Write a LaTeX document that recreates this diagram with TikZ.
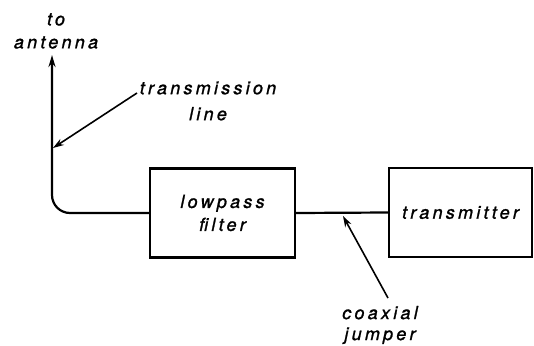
\documentclass[tikz,border=0pt]{standalone}
\usepackage{fontspec}
\setmainfont{TeX Gyre Heros}[LetterSpace=18, FakeBold=1.2]
\usepackage{tikz}
\usetikzlibrary{arrows.meta}
\usetikzlibrary{positioning}

\tikzset{
	blockbox/.style = {draw, line width=2.2pt, minimum width=145pt, minimum height=89pt, inner sep=0pt, align=center},
	lbl/.style = {align=center, inner sep=0pt, font=\fontsize{18}{23}\selectfont\itshape},
	feed/.style = {line width=2.2pt},
	pointer/.style = {line width=1.6pt, -{Stealth[length=11pt,width=7pt]}}
}

\begin{document}
\begin{tikzpicture}[x=1pt,y=-1pt]
		\useasboundingbox (0,0) rectangle (534,345);
		% blocks
		\node[blockbox, lbl] (filter) at (222.5,213) {lowpass\\filter};
		\node[blockbox, lbl, minimum width=143pt] (xmtr) at (460.5,212.5) {transmitter};
		% labels
		\node[lbl] (toant) at (56,31) {to\\antenna};
		\node[lbl, font=\fontsize{18}{26}\selectfont\itshape] (tline) at (208,101) {transmission\\line};
		\node[lbl, font=\fontsize{18}{21}\selectfont\itshape] (coax) at (380,325) {coaxial\\jumper};
		% lines
		\coordinate (ant) at (52,55);
		\draw[feed, rounded corners=18pt, -{Stealth[length=12pt,width=7pt]}] (filter.west) -| (ant);
		\draw[feed] (filter.east) -- (xmtr.west);
		\coordinate (tltail) at (137,93);
		\coordinate (tltip) at (53,148);
		\draw[pointer] (tltail) -- (tltip);
		\coordinate (cxtail) at (388,298);
		\coordinate (cxtip) at (343,216);
		\draw[pointer] (cxtail) -- (cxtip);
	\end{tikzpicture}
\end{document}
